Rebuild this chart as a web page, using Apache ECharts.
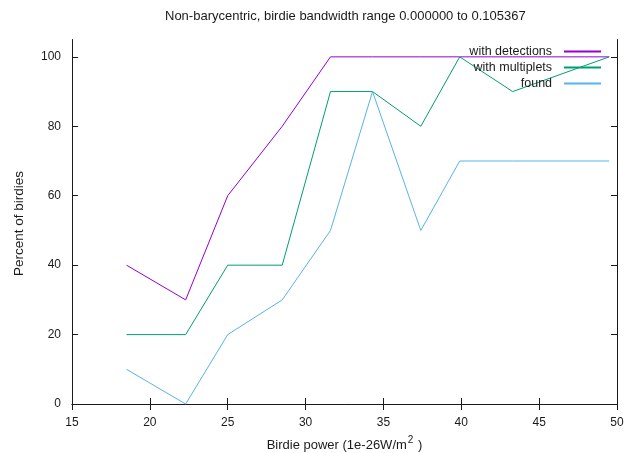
<!DOCTYPE html>
<html>
<head>
<meta charset="utf-8">
<script src="https://cdn.jsdelivr.net/npm/echarts@6/dist/echarts.min.js"></script>
<style>
  html, body { margin: 0; padding: 0; background: #fff; }
  #chart { width: 627px; height: 453px; }
</style>
</head>
<body>
<div id="chart"></div>
<script>
// Birdie power bins (1e-26 W/m^2)
const birdiePower = [18.5, 22.3, 25.0, 28.5, 31.6, 34.3, 37.4, 39.9, 43.3, 49.5];
// Percent of birdies per bin
const withDetections = [40, 30, 60, 80, 100, 100, 100, 100, 100, 100];
const withMultiplets = [20, 20, 40, 40, 90, 90, 80, 100, 90, 100];
const found = [10, 0, 20, 30, 50, 90, 50, 70, 70, 70];
const yTicks = [0, 20, 40, 60, 80, 100];

const seriesNames = ['with detections', 'with multiplets', 'found'];
const seriesColors = ['#9400d3', '#009e73', '#56b4e9'];
const seriesData = [withDetections, withMultiplets, found];

const FONT = '"Liberation Sans", Arial, sans-serif';
const INK = '#1a1a1a';

const chart = echarts.init(document.getElementById('chart'), null, { renderer: 'canvas' });

const frameLine = { show: true, lineStyle: { color: INK, width: 1 } };
const innerTick = { show: true, inside: true, length: 6, lineStyle: { color: INK, width: 1 } };

chart.setOption({
  animation: false,
  backgroundColor: '#fff',
  color: seriesColors,
  textStyle: { fontFamily: FONT },
  title: {
    text: 'Non-barycentric, birdie bandwidth range 0.000000 to 0.105367',
    left: 165,
    top: 10,
    padding: 0,
    textStyle: { fontFamily: FONT, fontSize: 13, fontWeight: 'normal', color: INK }
  },
  legend: {
    orient: 'vertical',
    right: 25,
    top: 44,
    padding: 0,
    align: 'right',
    // thin sample line; the line series' marker shrinks to nothing at this height
    itemWidth: 37,
    itemHeight: 1,
    itemGap: 1,
    data: seriesNames,
    formatter: name => name + '  ',
    textStyle: { fontFamily: FONT, fontSize: 12.5, color: INK, lineHeight: 15 }
  },
  grid: { left: 72, right: 10, top: 39.5, bottom: 45.5, outerBoundsMode: 'none', containLabel: false },
  xAxis: [
    {
      type: 'value',
      min: 15, max: 50, interval: 5,
      position: 'bottom',
      axisLine: frameLine,
      axisTick: innerTick,
      splitLine: { show: false },
      axisLabel: { color: INK, fontSize: 12, margin: 9, fontFamily: FONT },
      name: 'Birdie power (1e-26W/m{sup|2} )',
      nameLocation: 'middle',
      nameGap: 28,
      nameTextStyle: {
        color: INK, fontSize: 13, fontFamily: FONT, lineHeight: 20,
        rich: { sup: { fontSize: 10, verticalAlign: 'top', lineHeight: 10, color: INK, fontFamily: FONT, padding: [0, 1, 0, 1] } }
      }
    },
    {
      type: 'value',
      min: 15, max: 50, interval: 5,
      position: 'top',
      axisLine: frameLine,
      axisTick: innerTick,
      axisLabel: { show: false },
      splitLine: { show: false }
    }
  ],
  yAxis: [
    {
      type: 'value',
      min: -1, max: 105,
      position: 'left',
      axisLine: frameLine,
      axisTick: Object.assign({}, innerTick, { customValues: yTicks }),
      splitLine: { show: false },
      axisLabel: { color: INK, fontSize: 12, margin: 11, fontFamily: FONT, customValues: yTicks },
      name: 'Percent of birdies',
      nameLocation: 'middle',
      nameGap: 46,
      nameTextStyle: { color: INK, fontSize: 13.5, fontFamily: FONT }
    },
    {
      type: 'value',
      min: -1, max: 105,
      position: 'right',
      axisLine: frameLine,
      axisTick: Object.assign({}, innerTick, { customValues: yTicks }),
      axisLabel: { show: false },
      splitLine: { show: false }
    }
  ],
  series: seriesNames.map((name, i) => ({
    name: name,
    type: 'line',
    xAxisIndex: 0,
    yAxisIndex: 0,
    symbol: 'none',
    showSymbol: false,
    itemStyle: { color: seriesColors[i] },
    lineStyle: { color: seriesColors[i], width: 1 },
    data: birdiePower.map((x, j) => [x, seriesData[i][j]])
  }))
});
</script>
</body>
</html>
